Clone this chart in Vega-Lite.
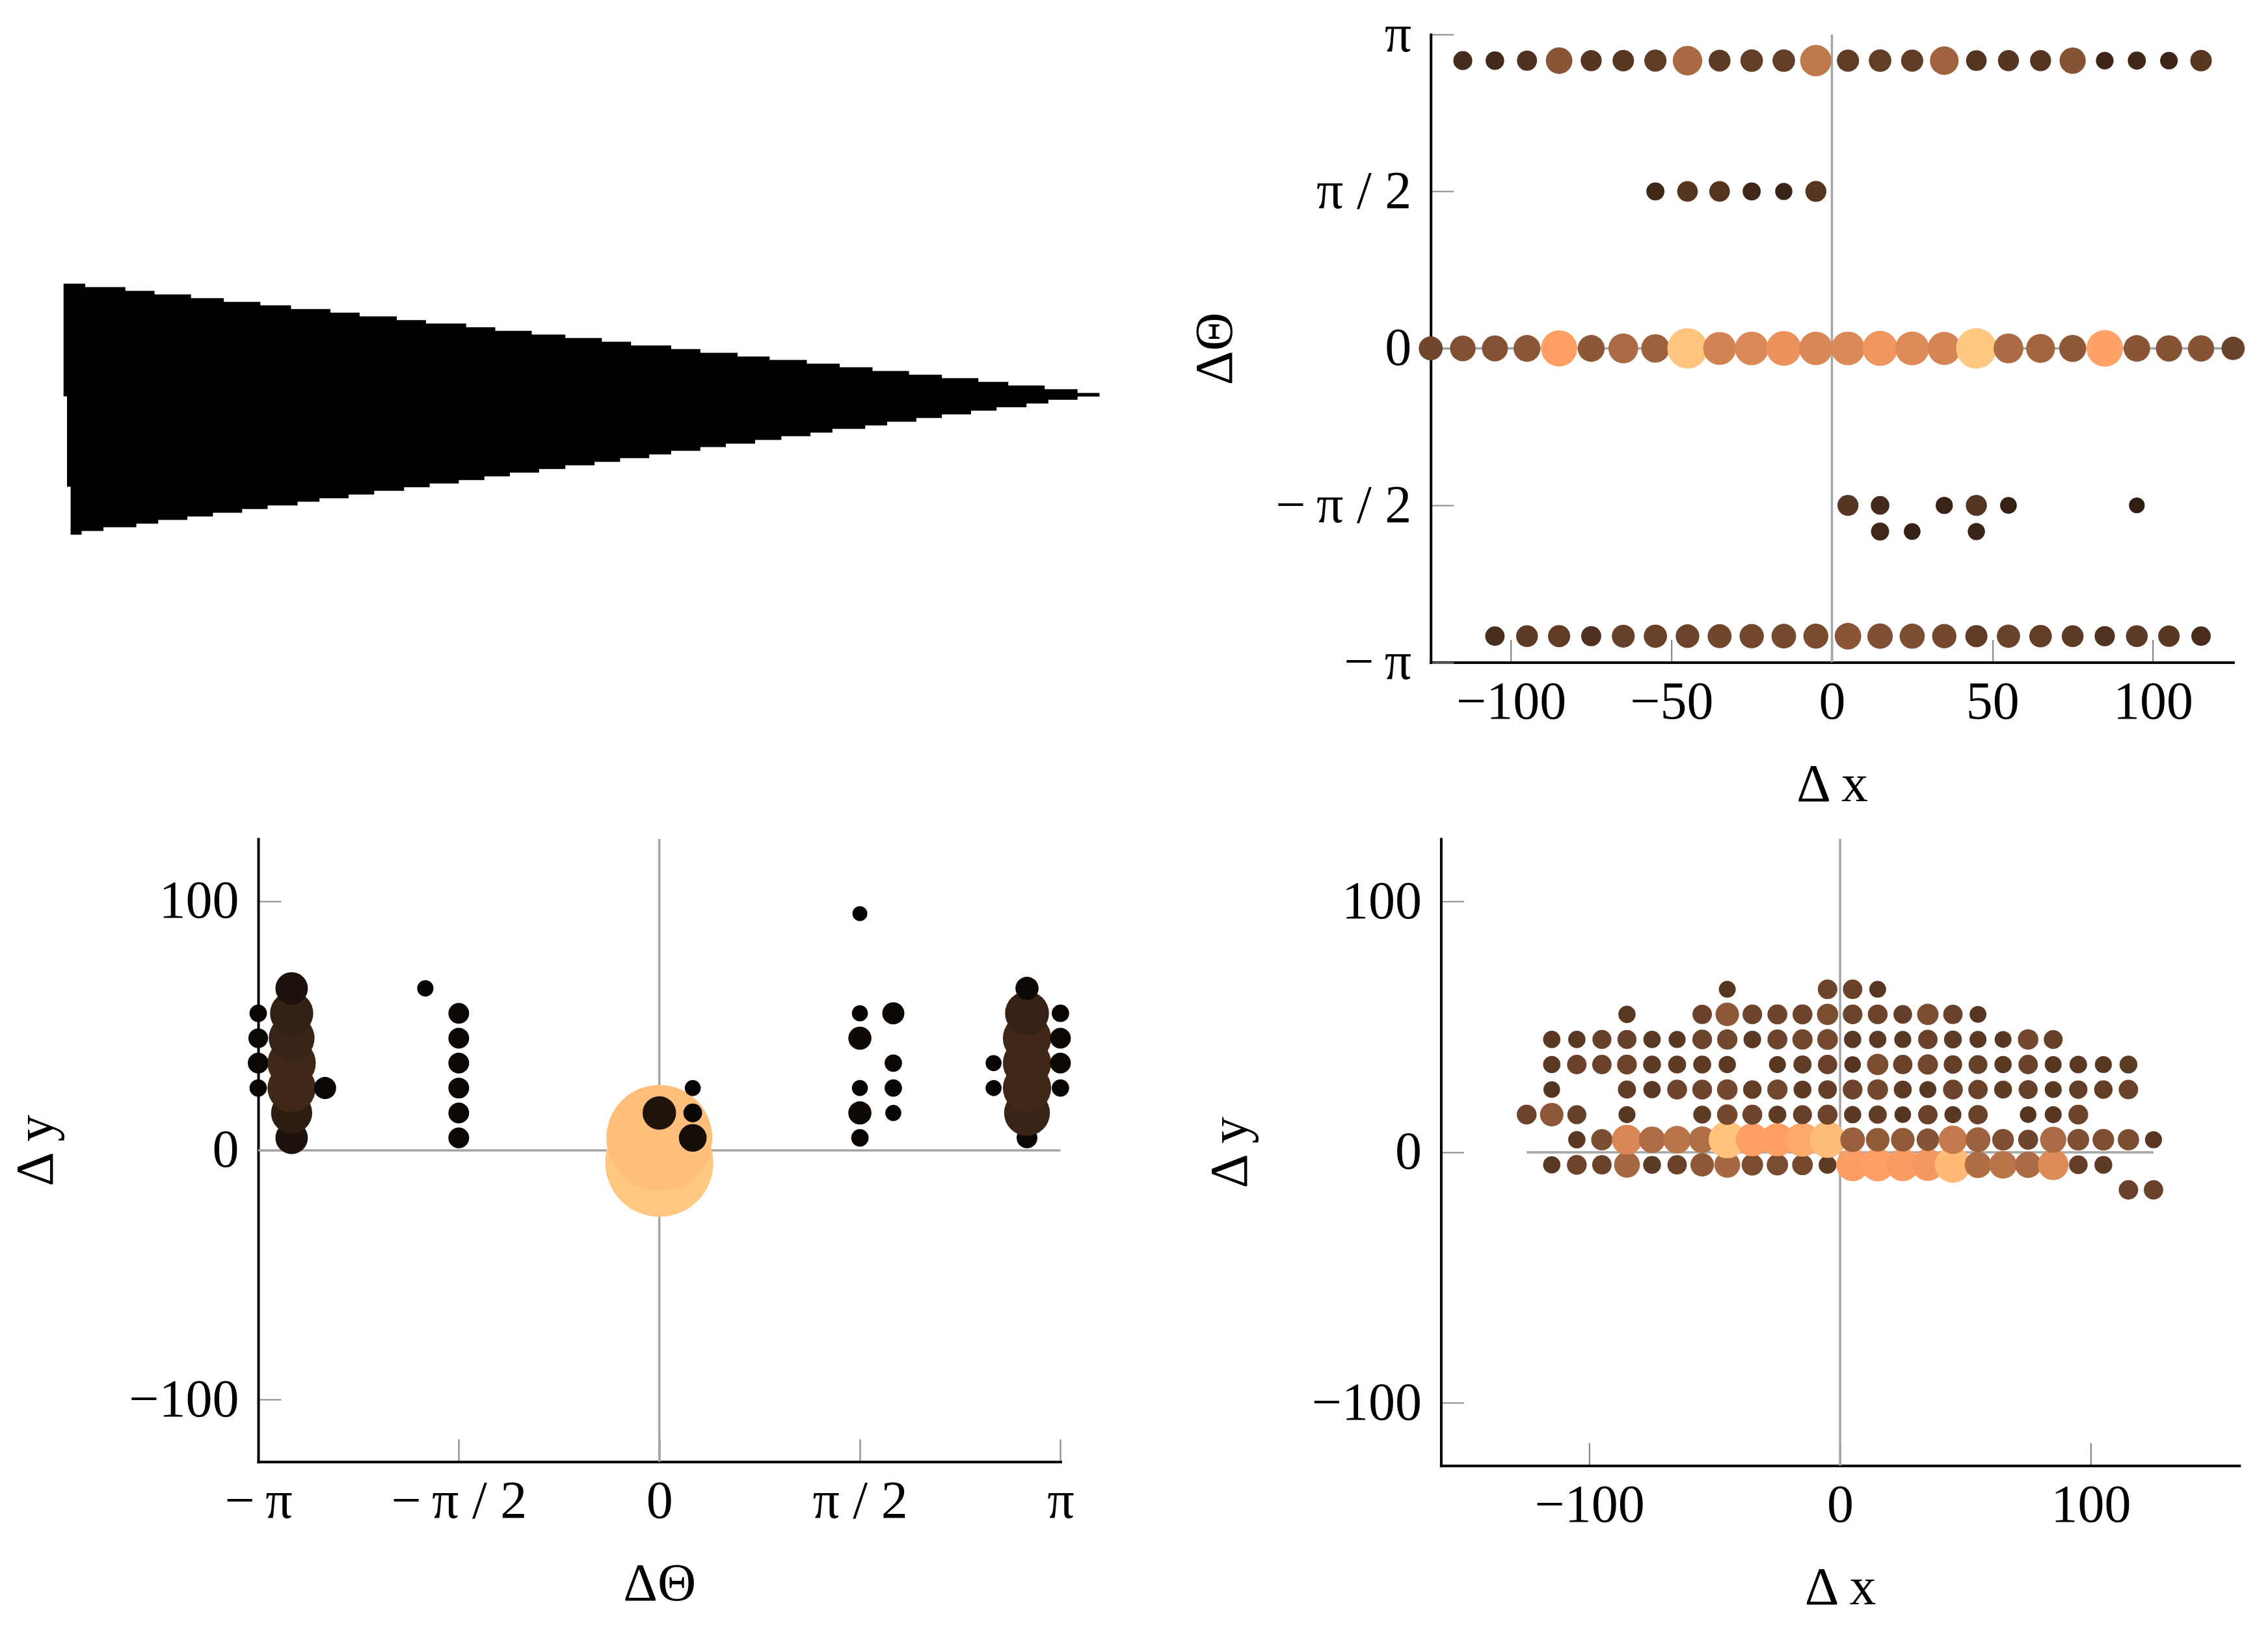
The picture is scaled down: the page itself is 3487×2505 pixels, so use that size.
{
  "$schema": "https://vega.github.io/schema/vega-lite/v6.json",
  "background": "white",
  "padding": {"left": 14, "top": 12, "right": 0, "bottom": 12},
  "config": {
    "view": {"stroke": null},
    "font": "Liberation Serif",
    "axis": {
      "grid": false,
      "domainColor": "black",
      "domainWidth": 4,
      "domainCap": "square",
      "tickColor": "#888888",
      "tickWidth": 2.2,
      "tickSize": -35,
      "labelFont": "Liberation Serif",
      "labelFontSize": 82,
      "labelColor": "black",
      "labelLimit": 1000,
      "labelFlush": false,
      "labelOverlap": false,
      "labelBound": false,
      "titleFont": "Liberation Serif",
      "titleFontSize": 82,
      "titleFontWeight": "normal",
      "titleColor": "black"
    },
    "axisBottom": {"labelPadding": 56, "titlePadding": 46},
    "axisLeft": {"labelPadding": 65}
  },
  "datasets": {
    "wedgeTop": [
      {"along": 0, "edge": 17.03}, {"along": 3.34, "edge": 16.5}, {"along": 9.51, "edge": 15.93},
      {"along": 13.99, "edge": 15.37}, {"along": 19.6, "edge": 14.8}, {"along": 24.65, "edge": 14.23},
      {"along": 30.26, "edge": 13.7}, {"along": 34.97, "edge": 13.13}, {"along": 41.03, "edge": 12.57},
      {"along": 45.52, "edge": 12.0}, {"along": 51.24, "edge": 11.43}, {"along": 55.73, "edge": 10.9},
      {"along": 61.9, "edge": 10.33}, {"along": 66.38, "edge": 9.77}, {"along": 71.99, "edge": 9.2},
      {"along": 77.15, "edge": 8.67}, {"along": 82.76, "edge": 8.1}, {"along": 87.25, "edge": 7.53},
      {"along": 93.42, "edge": 6.97}, {"along": 97.91, "edge": 6.4}, {"along": 103.63, "edge": 5.83},
      {"along": 108.56, "edge": 5.3}, {"along": 114.28, "edge": 4.73}, {"along": 119.33, "edge": 4.17},
      {"along": 124.38, "edge": 3.6}, {"along": 129.99, "edge": 3.03}, {"along": 135.04, "edge": 2.5},
      {"along": 140.65, "edge": 1.93}, {"along": 145.25, "edge": 1.37}, {"along": 150.85, "edge": 0.8},
      {"along": 155.9, "edge": 0.23}, {"along": 159.27, "edge": 0.23}
    ],
    "wedgeBottom": [
      {"along": 0.53, "edge": -14.2}, {"along": 1.09, "edge": -21.57}, {"along": 2.78, "edge": -21.0},
      {"along": 6.14, "edge": -20.43}, {"along": 11.19, "edge": -19.87}, {"along": 14.56, "edge": -19.3},
      {"along": 19.04, "edge": -18.77}, {"along": 22.97, "edge": -18.2}, {"along": 27.46, "edge": -17.63},
      {"along": 31.38, "edge": -17.07}, {"along": 35.98, "edge": -16.5}, {"along": 39.35, "edge": -15.97},
      {"along": 43.83, "edge": -15.4}, {"along": 47.76, "edge": -14.83}, {"along": 52.36, "edge": -14.27},
      {"along": 56.29, "edge": -13.7}, {"along": 60.77, "edge": -13.17}, {"along": 64.7, "edge": -12.6},
      {"along": 68.63, "edge": -12.03}, {"along": 73.11, "edge": -11.47}, {"along": 77.15, "edge": -10.9},
      {"along": 81.64, "edge": -10.37}, {"along": 85.57, "edge": -9.8}, {"along": 90.05, "edge": -9.23},
      {"along": 93.42, "edge": -8.67}, {"along": 97.91, "edge": -8.1}, {"along": 101.83, "edge": -7.57},
      {"along": 106.32, "edge": -7.0}, {"along": 110.36, "edge": -6.43}, {"along": 114.84, "edge": -5.87},
      {"along": 118.21, "edge": -5.3}, {"along": 123.26, "edge": -4.77}, {"along": 126.62, "edge": -4.2},
      {"along": 131.11, "edge": -3.63}, {"along": 135.04, "edge": -3.07}, {"along": 139.52, "edge": -2.5},
      {"along": 143.45, "edge": -1.97}, {"along": 148.05, "edge": -1.4}, {"along": 151.41, "edge": -0.83},
      {"along": 155.9, "edge": -0.3}, {"along": 159.27, "edge": -0.3}
    ],
    "xTheta": [
      {"dx": -105, "dtheta": -2.8798, "density": 0.23}, {"dx": -95, "dtheta": -2.8798, "density": 0.29},
      {"dx": -85, "dtheta": -2.8798, "density": 0.3}, {"dx": -75, "dtheta": -2.8798, "density": 0.245},
      {"dx": -65, "dtheta": -2.8798, "density": 0.32}, {"dx": -55, "dtheta": -2.8798, "density": 0.33},
      {"dx": -45, "dtheta": -2.8798, "density": 0.34}, {"dx": -35, "dtheta": -2.8798, "density": 0.35},
      {"dx": -25, "dtheta": -2.8798, "density": 0.36}, {"dx": -15, "dtheta": -2.8798, "density": 0.37},
      {"dx": -5, "dtheta": -2.8798, "density": 0.38}, {"dx": 5, "dtheta": -2.8798, "density": 0.43},
      {"dx": 15, "dtheta": -2.8798, "density": 0.395}, {"dx": 25, "dtheta": -2.8798, "density": 0.385},
      {"dx": 35, "dtheta": -2.8798, "density": 0.36}, {"dx": 45, "dtheta": -2.8798, "density": 0.3},
      {"dx": 55, "dtheta": -2.8798, "density": 0.33}, {"dx": 65, "dtheta": -2.8798, "density": 0.31},
      {"dx": 75, "dtheta": -2.8798, "density": 0.29}, {"dx": 85, "dtheta": -2.8798, "density": 0.25},
      {"dx": 95, "dtheta": -2.8798, "density": 0.29}, {"dx": 105, "dtheta": -2.8798, "density": 0.28},
      {"dx": 115, "dtheta": -2.8798, "density": 0.23},
      {"dx": 15, "dtheta": -1.8326, "density": 0.2}, {"dx": 25, "dtheta": -1.8326, "density": 0.17},
      {"dx": 45, "dtheta": -1.8326, "density": 0.18},
      {"dx": 5, "dtheta": -1.5708, "density": 0.27}, {"dx": 15, "dtheta": -1.5708, "density": 0.21},
      {"dx": 35, "dtheta": -1.5708, "density": 0.18}, {"dx": 45, "dtheta": -1.5708, "density": 0.27},
      {"dx": 55, "dtheta": -1.5708, "density": 0.17}, {"dx": 95, "dtheta": -1.5708, "density": 0.15},
      {"dx": -125, "dtheta": 0, "density": 0.35}, {"dx": -115, "dtheta": 0, "density": 0.4},
      {"dx": -105, "dtheta": 0, "density": 0.41}, {"dx": -95, "dtheta": 0, "density": 0.44},
      {"dx": -85, "dtheta": 0, "density": 0.8}, {"dx": -75, "dtheta": 0, "density": 0.44},
      {"dx": -65, "dtheta": 0, "density": 0.54}, {"dx": -55, "dtheta": 0, "density": 0.49},
      {"dx": -45, "dtheta": 0, "density": 0.99}, {"dx": -35, "dtheta": 0, "density": 0.66},
      {"dx": -25, "dtheta": 0, "density": 0.69}, {"dx": -15, "dtheta": 0, "density": 0.74},
      {"dx": -5, "dtheta": 0, "density": 0.68}, {"dx": 5, "dtheta": 0, "density": 0.69},
      {"dx": 15, "dtheta": 0, "density": 0.75}, {"dx": 25, "dtheta": 0, "density": 0.7},
      {"dx": 35, "dtheta": 0, "density": 0.67}, {"dx": 45, "dtheta": 0, "density": 1.0},
      {"dx": 55, "dtheta": 0, "density": 0.54}, {"dx": 65, "dtheta": 0, "density": 0.51},
      {"dx": 75, "dtheta": 0, "density": 0.445}, {"dx": 85, "dtheta": 0, "density": 0.82},
      {"dx": 95, "dtheta": 0, "density": 0.43}, {"dx": 105, "dtheta": 0, "density": 0.42},
      {"dx": 115, "dtheta": 0, "density": 0.42}, {"dx": 125, "dtheta": 0, "density": 0.33},
      {"dx": -55, "dtheta": 1.5708, "density": 0.2}, {"dx": -45, "dtheta": 1.5708, "density": 0.26},
      {"dx": -35, "dtheta": 1.5708, "density": 0.26}, {"dx": -25, "dtheta": 1.5708, "density": 0.2},
      {"dx": -15, "dtheta": 1.5708, "density": 0.18}, {"dx": -5, "dtheta": 1.5708, "density": 0.27},
      {"dx": -115, "dtheta": 2.8798, "density": 0.22}, {"dx": -105, "dtheta": 2.8798, "density": 0.21},
      {"dx": -95, "dtheta": 2.8798, "density": 0.245}, {"dx": -85, "dtheta": 2.8798, "density": 0.43},
      {"dx": -75, "dtheta": 2.8798, "density": 0.27}, {"dx": -65, "dtheta": 2.8798, "density": 0.28},
      {"dx": -55, "dtheta": 2.8798, "density": 0.3}, {"dx": -45, "dtheta": 2.8798, "density": 0.53},
      {"dx": -35, "dtheta": 2.8798, "density": 0.29}, {"dx": -25, "dtheta": 2.8798, "density": 0.31},
      {"dx": -15, "dtheta": 2.8798, "density": 0.31}, {"dx": -5, "dtheta": 2.8798, "density": 0.6},
      {"dx": 5, "dtheta": 2.8798, "density": 0.3}, {"dx": 15, "dtheta": 2.8798, "density": 0.31},
      {"dx": 25, "dtheta": 2.8798, "density": 0.3}, {"dx": 35, "dtheta": 2.8798, "density": 0.5},
      {"dx": 45, "dtheta": 2.8798, "density": 0.26}, {"dx": 55, "dtheta": 2.8798, "density": 0.27},
      {"dx": 65, "dtheta": 2.8798, "density": 0.27}, {"dx": 75, "dtheta": 2.8798, "density": 0.42},
      {"dx": 85, "dtheta": 2.8798, "density": 0.19}, {"dx": 95, "dtheta": 2.8798, "density": 0.2},
      {"dx": 105, "dtheta": 2.8798, "density": 0.19}, {"dx": 115, "dtheta": 2.8798, "density": 0.28}
    ],
    "thetaY": [
      {"dtheta": 0, "dy": -5, "density": 1.0},
      {"dtheta": -2.8798, "dy": 5, "density": 0.09}, {"dtheta": -1.5708, "dy": 5, "density": 0.037},
      {"dtheta": 0, "dy": 5, "density": 0.96}, {"dtheta": 0.2618, "dy": 5, "density": 0.066},
      {"dtheta": 1.5708, "dy": 5, "density": 0.026}, {"dtheta": 2.8798, "dy": 5, "density": 0.037},
      {"dtheta": -2.8798, "dy": 15, "density": 0.145}, {"dtheta": -1.5708, "dy": 15, "density": 0.037},
      {"dtheta": 0, "dy": 15, "density": 0.096}, {"dtheta": 0.2618, "dy": 15, "density": 0.03},
      {"dtheta": 1.5708, "dy": 15, "density": 0.046}, {"dtheta": 1.8326, "dy": 15, "density": 0.022},
      {"dtheta": 2.8798, "dy": 15, "density": 0.18},
      {"dtheta": -3.1416, "dy": 25, "density": 0.026}, {"dtheta": -2.8798, "dy": 25, "density": 0.2},
      {"dtheta": -2.618, "dy": 25, "density": 0.042}, {"dtheta": -1.5708, "dy": 25, "density": 0.037},
      {"dtheta": 0.2618, "dy": 25, "density": 0.022}, {"dtheta": 1.5708, "dy": 25, "density": 0.022},
      {"dtheta": 1.8326, "dy": 25, "density": 0.026}, {"dtheta": 2.618, "dy": 25, "density": 0.022},
      {"dtheta": 2.8798, "dy": 25, "density": 0.2}, {"dtheta": 3.1416, "dy": 25, "density": 0.026},
      {"dtheta": -3.1416, "dy": 35, "density": 0.037}, {"dtheta": -2.8798, "dy": 35, "density": 0.2},
      {"dtheta": -1.5708, "dy": 35, "density": 0.037}, {"dtheta": 1.8326, "dy": 35, "density": 0.026},
      {"dtheta": 2.618, "dy": 35, "density": 0.022}, {"dtheta": 2.8798, "dy": 35, "density": 0.2},
      {"dtheta": 3.1416, "dy": 35, "density": 0.037},
      {"dtheta": -3.1416, "dy": 45, "density": 0.033}, {"dtheta": -2.8798, "dy": 45, "density": 0.18},
      {"dtheta": -1.5708, "dy": 45, "density": 0.037}, {"dtheta": 1.5708, "dy": 45, "density": 0.046},
      {"dtheta": 2.8798, "dy": 45, "density": 0.2}, {"dtheta": 3.1416, "dy": 45, "density": 0.037},
      {"dtheta": -3.1416, "dy": 55, "density": 0.026}, {"dtheta": -2.8798, "dy": 55, "density": 0.16},
      {"dtheta": -1.5708, "dy": 55, "density": 0.037}, {"dtheta": 1.5708, "dy": 55, "density": 0.022},
      {"dtheta": 1.8326, "dy": 55, "density": 0.042}, {"dtheta": 2.8798, "dy": 55, "density": 0.165},
      {"dtheta": 3.1416, "dy": 55, "density": 0.026},
      {"dtheta": -2.8798, "dy": 65, "density": 0.09}, {"dtheta": -1.8326, "dy": 65, "density": 0.023},
      {"dtheta": 2.8798, "dy": 65, "density": 0.046},
      {"dtheta": 1.5708, "dy": 95, "density": 0.019}
    ],
    "xY": [
      {"dx": 115, "dy": -15, "density": 0.333}, {"dx": 125, "dy": -15, "density": 0.333},
      {"dx": -115, "dy": -5, "density": 0.282}, {"dx": -105, "dy": -5, "density": 0.342},
      {"dx": -95, "dy": -5, "density": 0.333}, {"dx": -85, "dy": -5, "density": 0.521},
      {"dx": -75, "dy": -5, "density": 0.295}, {"dx": -65, "dy": -5, "density": 0.333},
      {"dx": -55, "dy": -5, "density": 0.445}, {"dx": -45, "dy": -5, "density": 0.521},
      {"dx": -35, "dy": -5, "density": 0.389}, {"dx": -25, "dy": -5, "density": 0.383},
      {"dx": -15, "dy": -5, "density": 0.367}, {"dx": -5, "dy": -5, "density": 0.295},
      {"dx": 5, "dy": -5, "density": 0.784}, {"dx": 15, "dy": -5, "density": 0.8},
      {"dx": 25, "dy": -5, "density": 0.781}, {"dx": 35, "dy": -5, "density": 0.765},
      {"dx": 45, "dy": -5, "density": 0.934}, {"dx": 55, "dy": -5, "density": 0.546},
      {"dx": 65, "dy": -5, "density": 0.584}, {"dx": 75, "dy": -5, "density": 0.536},
      {"dx": 85, "dy": -5, "density": 0.7}, {"dx": 95, "dy": -5, "density": 0.314},
      {"dx": 105, "dy": -5, "density": 0.295},
      {"dx": -105, "dy": 5, "density": 0.282}, {"dx": -95, "dy": 5, "density": 0.386},
      {"dx": -85, "dy": 5, "density": 0.681}, {"dx": -75, "dy": 5, "density": 0.543},
      {"dx": -65, "dy": 5, "density": 0.587}, {"dx": -55, "dy": 5, "density": 0.552},
      {"dx": -45, "dy": 5, "density": 0.979}, {"dx": -35, "dy": 5, "density": 0.8},
      {"dx": -25, "dy": 5, "density": 0.8}, {"dx": -15, "dy": 5, "density": 0.843},
      {"dx": -5, "dy": 5, "density": 0.944}, {"dx": 5, "dy": 5, "density": 0.483},
      {"dx": 15, "dy": 5, "density": 0.452}, {"dx": 25, "dy": 5, "density": 0.452},
      {"dx": 35, "dy": 5, "density": 0.417}, {"dx": 45, "dy": 5, "density": 0.615},
      {"dx": 55, "dy": 5, "density": 0.489}, {"dx": 65, "dy": 5, "density": 0.395},
      {"dx": 75, "dy": 5, "density": 0.345}, {"dx": 85, "dy": 5, "density": 0.536},
      {"dx": 95, "dy": 5, "density": 0.395}, {"dx": 105, "dy": 5, "density": 0.392},
      {"dx": 115, "dy": 5, "density": 0.386}, {"dx": 125, "dy": 5, "density": 0.276},
      {"dx": -125, "dy": 15, "density": 0.342}, {"dx": -115, "dy": 15, "density": 0.449},
      {"dx": -105, "dy": 15, "density": 0.323}, {"dx": -85, "dy": 15, "density": 0.276},
      {"dx": -55, "dy": 15, "density": 0.295}, {"dx": -45, "dy": 15, "density": 0.361},
      {"dx": -35, "dy": 15, "density": 0.345}, {"dx": -25, "dy": 15, "density": 0.295},
      {"dx": -15, "dy": 15, "density": 0.323}, {"dx": -5, "dy": 15, "density": 0.345},
      {"dx": 5, "dy": 15, "density": 0.282}, {"dx": 15, "dy": 15, "density": 0.304},
      {"dx": 25, "dy": 15, "density": 0.267}, {"dx": 35, "dy": 15, "density": 0.333},
      {"dx": 45, "dy": 15, "density": 0.276}, {"dx": 55, "dy": 15, "density": 0.333},
      {"dx": 75, "dy": 15, "density": 0.267}, {"dx": 85, "dy": 15, "density": 0.276},
      {"dx": 95, "dy": 15, "density": 0.342},
      {"dx": -115, "dy": 25, "density": 0.267}, {"dx": -85, "dy": 25, "density": 0.301},
      {"dx": -75, "dy": 25, "density": 0.282}, {"dx": -65, "dy": 25, "density": 0.345},
      {"dx": -55, "dy": 25, "density": 0.342}, {"dx": -45, "dy": 25, "density": 0.364},
      {"dx": -35, "dy": 25, "density": 0.31}, {"dx": -25, "dy": 25, "density": 0.355},
      {"dx": -15, "dy": 25, "density": 0.295}, {"dx": -5, "dy": 25, "density": 0.314},
      {"dx": 5, "dy": 25, "density": 0.342}, {"dx": 15, "dy": 25, "density": 0.364},
      {"dx": 25, "dy": 25, "density": 0.298}, {"dx": 35, "dy": 25, "density": 0.276},
      {"dx": 45, "dy": 25, "density": 0.342}, {"dx": 55, "dy": 25, "density": 0.333},
      {"dx": 65, "dy": 25, "density": 0.295}, {"dx": 75, "dy": 25, "density": 0.323},
      {"dx": 85, "dy": 25, "density": 0.276}, {"dx": 95, "dy": 25, "density": 0.307},
      {"dx": 105, "dy": 25, "density": 0.31}, {"dx": 115, "dy": 25, "density": 0.333},
      {"dx": -115, "dy": 35, "density": 0.282}, {"dx": -105, "dy": 35, "density": 0.333},
      {"dx": -95, "dy": 35, "density": 0.333}, {"dx": -85, "dy": 35, "density": 0.342},
      {"dx": -75, "dy": 35, "density": 0.295}, {"dx": -65, "dy": 35, "density": 0.298},
      {"dx": -55, "dy": 35, "density": 0.298}, {"dx": -45, "dy": 35, "density": 0.282},
      {"dx": -25, "dy": 35, "density": 0.273}, {"dx": -15, "dy": 35, "density": 0.301},
      {"dx": -5, "dy": 35, "density": 0.333}, {"dx": 5, "dy": 35, "density": 0.267},
      {"dx": 15, "dy": 35, "density": 0.383}, {"dx": 25, "dy": 35, "density": 0.333},
      {"dx": 35, "dy": 35, "density": 0.355}, {"dx": 45, "dy": 35, "density": 0.31},
      {"dx": 55, "dy": 35, "density": 0.32}, {"dx": 65, "dy": 35, "density": 0.282},
      {"dx": 75, "dy": 35, "density": 0.333}, {"dx": 85, "dy": 35, "density": 0.273},
      {"dx": 95, "dy": 35, "density": 0.289}, {"dx": 105, "dy": 35, "density": 0.276},
      {"dx": 115, "dy": 35, "density": 0.295},
      {"dx": -115, "dy": 45, "density": 0.282}, {"dx": -105, "dy": 45, "density": 0.282},
      {"dx": -95, "dy": 45, "density": 0.323}, {"dx": -85, "dy": 45, "density": 0.323},
      {"dx": -75, "dy": 45, "density": 0.282}, {"dx": -65, "dy": 45, "density": 0.276},
      {"dx": -55, "dy": 45, "density": 0.339}, {"dx": -45, "dy": 45, "density": 0.355},
      {"dx": -35, "dy": 45, "density": 0.289}, {"dx": -25, "dy": 45, "density": 0.345},
      {"dx": -15, "dy": 45, "density": 0.355}, {"dx": -5, "dy": 45, "density": 0.367},
      {"dx": 5, "dy": 45, "density": 0.282}, {"dx": 15, "dy": 45, "density": 0.282},
      {"dx": 25, "dy": 45, "density": 0.276}, {"dx": 35, "dy": 45, "density": 0.333},
      {"dx": 45, "dy": 45, "density": 0.295}, {"dx": 55, "dy": 45, "density": 0.276},
      {"dx": 65, "dy": 45, "density": 0.273}, {"dx": 75, "dy": 45, "density": 0.361},
      {"dx": 85, "dy": 45, "density": 0.32},
      {"dx": -85, "dy": 55, "density": 0.282}, {"dx": -55, "dy": 55, "density": 0.333},
      {"dx": -45, "dy": 55, "density": 0.449}, {"dx": -35, "dy": 55, "density": 0.339},
      {"dx": -25, "dy": 55, "density": 0.345}, {"dx": -15, "dy": 55, "density": 0.345},
      {"dx": -5, "dy": 55, "density": 0.383}, {"dx": 5, "dy": 55, "density": 0.339},
      {"dx": 15, "dy": 55, "density": 0.342}, {"dx": 25, "dy": 55, "density": 0.314},
      {"dx": 35, "dy": 55, "density": 0.386}, {"dx": 45, "dy": 55, "density": 0.333},
      {"dx": 55, "dy": 55, "density": 0.273},
      {"dx": -45, "dy": 65, "density": 0.273}, {"dx": -5, "dy": 65, "density": 0.336},
      {"dx": 5, "dy": 65, "density": 0.333}, {"dx": 15, "dy": 65, "density": 0.273}
    ]
  },
  "bounds": "full",
  "align": "none",
  "columns": 1,
  "spacing": 40,
  "resolve": {"scale": {"size": "independent", "color": "independent"}},
  "concat": [
    {
      "bounds": "flush",
      "spacing": 568.7,
      "resolve": {"scale": {"size": "independent", "color": "independent"}},
      "hconcat": [
        {
          "width": 1233.4,
          "height": 965.5,
          "layer": [
            {
              "data": {"name": "wedgeTop"},
              "mark": {"type": "area", "interpolate": "step-after", "color": "black"},
              "encoding": {
                "x": {"field": "along", "type": "quantitative", "scale": {"domain": [29.93, 153.27], "nice": false, "zero": false}, "axis": null},
                "y": {"field": "edge", "type": "quantitative", "scale": {"domain": [-41.2, 55.35], "nice": false, "zero": false}, "axis": null},
                "y2": {"datum": -0.3}
              }
            },
            {
              "data": {"name": "wedgeBottom"},
              "mark": {"type": "area", "interpolate": "step-after", "color": "black"},
              "encoding": {
                "x": {"field": "along", "type": "quantitative", "axis": null},
                "y": {"field": "edge", "type": "quantitative", "axis": null},
                "y2": {"datum": 0}
              }
            }
          ]
        },
        {
          "width": 1233.7,
          "height": 965.5,
          "layer": [
            {
              "data": {"values": [{}]},
              "mark": {"type": "rule", "color": "#a6a6a6", "strokeWidth": 3.5},
              "encoding": {"x": {"datum": 0, "type": "quantitative"}}
            },
            {
              "data": {"values": [{}]},
              "mark": {"type": "rule", "color": "#a6a6a6", "strokeWidth": 3.5},
              "encoding": {"y": {"datum": 0, "type": "quantitative"}}
            },
            {
              "data": {"name": "xTheta"},
              "mark": {"type": "circle", "opacity": 1, "strokeWidth": 0},
              "encoding": {
                "x": {
                  "field": "dx", "type": "quantitative",
                  "scale": {"domain": [-125, 125], "nice": false, "zero": false},
                  "axis": {"title": "Δ x", "values": [-100, -50, 0, 50, 100]}
                },
                "y": {
                  "field": "dtheta", "type": "quantitative",
                  "scale": {"domain": [-3.141592653589793, 3.141592653589793], "nice": false, "zero": false},
                  "axis": {
                    "title": "ΔΘ",
                    "values": [-3.141592653589793, -1.5707963267948966, 0, 1.5707963267948966, 3.141592653589793],
                    "labelExpr": "datum.value < -3 ? '−\u2009π' : datum.value < -1 ? '−\u2009π / 2' : datum.value > 3 ? 'π' : datum.value > 1 ? 'π / 2' : '0'",
                    "titlePadding": 89
                  }
                },
                "color": {
                  "field": "density", "type": "quantitative",
                  "scale": {"domain": [0, 0.8, 1], "range": ["#000000", "#ff9f65", "#ffc77f"], "interpolate": "rgb"},
                  "legend": null
                },
                "size": {
                  "field": "density", "type": "quantitative",
                  "scale": {"domain": [0, 1], "range": [0, 3880]},
                  "legend": null
                }
              }
            }
          ]
        }
      ]
    },
    {
      "bounds": "flush",
      "spacing": 584.4,
      "resolve": {"scale": {"size": "independent", "color": "independent"}},
      "hconcat": [
        {
          "width": 1233.4,
          "height": 957.8,
          "layer": [
            {
              "data": {"values": [{}]},
              "mark": {"type": "rule", "color": "#a6a6a6", "strokeWidth": 3.5},
              "encoding": {"x": {"datum": 0, "type": "quantitative"}}
            },
            {
              "data": {"values": [{}]},
              "mark": {"type": "rule", "color": "#a6a6a6", "strokeWidth": 3.5},
              "encoding": {"y": {"datum": 0, "type": "quantitative"}}
            },
            {
              "data": {"name": "thetaY"},
              "mark": {"type": "circle", "opacity": 1, "strokeWidth": 0},
              "encoding": {
                "x": {
                  "field": "dtheta", "type": "quantitative",
                  "scale": {"domain": [-3.141592653589793, 3.141592653589793], "nice": false, "zero": false},
                  "axis": {
                    "title": "ΔΘ",
                    "values": [-3.141592653589793, -1.5707963267948966, 0, 1.5707963267948966, 3.141592653589793],
                    "labelExpr": "datum.value < -3 ? '−\u2009π' : datum.value < -1 ? '−\u2009π / 2' : datum.value > 3 ? 'π' : datum.value > 1 ? 'π / 2' : '0'"
                  }
                },
                "y": {
                  "field": "dy", "type": "quantitative",
                  "scale": {"domain": [-125, 125], "nice": false, "zero": false},
                  "axis": {"title": "Δ y", "values": [-100, 0, 100], "titlePadding": 100}
                },
                "color": {
                  "field": "density", "type": "quantitative",
                  "scale": {"domain": [0, 0.8, 1], "range": ["#000000", "#ff9f65", "#ffc77f"], "interpolate": "rgb"},
                  "legend": null
                },
                "size": {
                  "field": "density", "type": "quantitative",
                  "scale": {"domain": [0, 1], "range": [0, 27600]},
                  "legend": null
                }
              }
            }
          ]
        },
        {
          "width": 1227.4,
          "height": 963.8,
          "layer": [
            {
              "data": {"values": [{}]},
              "mark": {"type": "rule", "color": "#a6a6a6", "strokeWidth": 3.5},
              "encoding": {"x": {"datum": 0, "type": "quantitative"}}
            },
            {
              "data": {"values": [{}]},
              "mark": {"type": "rule", "color": "#a6a6a6", "strokeWidth": 3.5},
              "encoding": {"y": {"datum": 0, "type": "quantitative"}, "x": {"datum": -125, "type": "quantitative"}, "x2": {"datum": 125}}
            },
            {
              "data": {"name": "xY"},
              "mark": {"type": "circle", "opacity": 1, "strokeWidth": 0},
              "encoding": {
                "x": {
                  "field": "dx", "type": "quantitative",
                  "scale": {"domain": [-159.2, 159.2], "nice": false, "zero": false},
                  "axis": {"title": "Δ x", "values": [-100, 0, 100]}
                },
                "y": {
                  "field": "dy", "type": "quantitative",
                  "scale": {"domain": [-125, 125], "nice": false, "zero": false},
                  "axis": {"title": "Δ y", "values": [-100, 0, 100], "titlePadding": 83}
                },
                "color": {
                  "field": "density", "type": "quantitative",
                  "scale": {"domain": [0, 0.8, 1], "range": ["#000000", "#ff9f65", "#ffc77f"], "interpolate": "rgb"},
                  "legend": null
                },
                "size": {
                  "field": "density", "type": "quantitative",
                  "scale": {"domain": [0.088, 1], "range": [0, 3324], "zero": false},
                  "legend": null
                }
              }
            }
          ]
        }
      ]
    }
  ]
}
